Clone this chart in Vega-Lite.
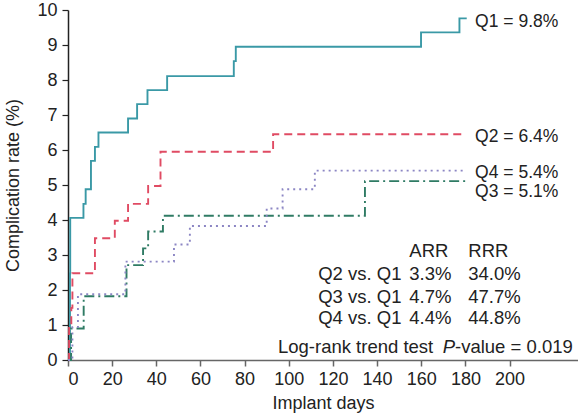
{
  "$schema": "https://vega.github.io/schema/vega-lite/v6.json",
  "autosize": "none",
  "width": 510,
  "height": 350,
  "padding": {"left": 68, "top": 10, "right": 0, "bottom": 60},
  "config": {"view": {"stroke": null}, "font": "Liberation Sans", "text": {"font": "Liberation Sans"}},
  "datasets": {
    "curves": [
      {"g": "Q1", "day": 0, "rate": 0},
      {"g": "Q1", "day": 0.9, "rate": 2.47},
      {"g": "Q1", "day": 1.0, "rate": 4.06},
      {"g": "Q1", "day": 7.0, "rate": 4.46},
      {"g": "Q1", "day": 8.0, "rate": 4.88},
      {"g": "Q1", "day": 10.4, "rate": 5.69},
      {"g": "Q1", "day": 12.2, "rate": 6.09},
      {"g": "Q1", "day": 13.8, "rate": 6.5},
      {"g": "Q1", "day": 27.2, "rate": 6.9},
      {"g": "Q1", "day": 31.3, "rate": 7.31},
      {"g": "Q1", "day": 36.0, "rate": 7.71},
      {"g": "Q1", "day": 44.9, "rate": 8.11},
      {"g": "Q1", "day": 75.1, "rate": 8.54},
      {"g": "Q1", "day": 76.0, "rate": 8.95},
      {"g": "Q1", "day": 159.9, "rate": 9.36},
      {"g": "Q1", "day": 177.3, "rate": 9.76},
      {"g": "Q1", "day": 180.6, "rate": 9.76},
      {"g": "Q2", "day": 0, "rate": 0},
      {"g": "Q2", "day": 0.5, "rate": 0.99},
      {"g": "Q2", "day": 1.5, "rate": 1.49},
      {"g": "Q2", "day": 2.0, "rate": 2.48},
      {"g": "Q2", "day": 12.2, "rate": 3.48},
      {"g": "Q2", "day": 21.2, "rate": 3.98},
      {"g": "Q2", "day": 27.2, "rate": 4.46},
      {"g": "Q2", "day": 36.3, "rate": 4.97},
      {"g": "Q2", "day": 41.9, "rate": 5.95},
      {"g": "Q2", "day": 92.9, "rate": 6.45},
      {"g": "Q2", "day": 178.3, "rate": 6.45},
      {"g": "Q3", "day": 0, "rate": 0},
      {"g": "Q3", "day": 1.4, "rate": 0.9},
      {"g": "Q3", "day": 7.1, "rate": 1.82},
      {"g": "Q3", "day": 26.5, "rate": 2.71},
      {"g": "Q3", "day": 34.0, "rate": 3.19},
      {"g": "Q3", "day": 36.3, "rate": 3.67},
      {"g": "Q3", "day": 43.0, "rate": 4.12},
      {"g": "Q3", "day": 134.5, "rate": 5.11},
      {"g": "Q3", "day": 180.5, "rate": 5.11},
      {"g": "Q4", "day": 0, "rate": 0},
      {"g": "Q4", "day": 2.0, "rate": 0.94},
      {"g": "Q4", "day": 4.5, "rate": 1.88},
      {"g": "Q4", "day": 26.0, "rate": 2.81},
      {"g": "Q4", "day": 48.0, "rate": 3.3},
      {"g": "Q4", "day": 55.2, "rate": 3.83},
      {"g": "Q4", "day": 90.0, "rate": 4.33},
      {"g": "Q4", "day": 97.2, "rate": 4.88},
      {"g": "Q4", "day": 111.8, "rate": 5.41},
      {"g": "Q4", "day": 179.0, "rate": 5.41}
    ],
    "endLabels": [
      {"day": 184.4, "rate": 9.67, "label": "Q1 = 9.8%"},
      {"day": 184.4, "rate": 6.38, "label": "Q2 = 6.4%"},
      {"day": 184.4, "rate": 5.33, "label": "Q4 = 5.4%"},
      {"day": 184.4, "rate": 4.8, "label": "Q3 = 5.1%"}
    ],
    "table": [
      {"day": 154.6, "rate": 3.12, "label": "ARR"},
      {"day": 181.3, "rate": 3.12, "label": "RRR"},
      {"day": 113.3, "rate": 2.46, "label": "Q2 vs. Q1"},
      {"day": 154.6, "rate": 2.46, "label": "3.3%"},
      {"day": 181.3, "rate": 2.46, "label": "34.0%"},
      {"day": 113.3, "rate": 1.81, "label": "Q3 vs. Q1"},
      {"day": 154.6, "rate": 1.81, "label": "4.7%"},
      {"day": 181.3, "rate": 1.81, "label": "47.7%"},
      {"day": 113.3, "rate": 1.19, "label": "Q4 vs. Q1"},
      {"day": 154.6, "rate": 1.19, "label": "4.4%"},
      {"day": 181.3, "rate": 1.19, "label": "44.8%"},
      {"day": 95.1, "rate": 0.38, "label": "Log-rank trend test"},
      {"day": 175.3, "rate": 0.38, "label": "-value = 0.019"}
    ],
    "italic": [
      {"day": 169.7, "rate": 0.38, "label": "P"}
    ]
  },
  "encoding": {
    "x": {
      "field": "day", "type": "quantitative",
      "scale": {"domain": [0, 231], "nice": false, "zero": true},
      "axis": {
        "values": [0, 20, 40, 60, 80, 100, 120, 140, 160, 180, 200],
        "title": "Implant days", "titleFontSize": 18, "titleFontWeight": "normal",
        "titleColor": "#222", "titlePadding": 6,
        "labelFontSize": 18, "labelColor": "#222", "labelPadding": 4, "labelOverlap": false,
        "domainColor": "#666", "domainWidth": 1.5, "tickColor": "#666", "tickWidth": 1.5, "tickSize": 6,
        "grid": false
      }
    },
    "y": {
      "field": "rate", "type": "quantitative",
      "scale": {"domain": [0, 10], "nice": false},
      "axis": {
        "values": [0, 1, 2, 3, 4, 5, 6, 7, 8, 9, 10],
        "title": "Complication rate (%)", "titleFontSize": 18, "titleFontWeight": "normal",
        "titleColor": "#222", "titlePadding": 14,
        "labelFontSize": 18, "labelColor": "#222", "labelPadding": 5, "labelOverlap": false,
        "domainColor": "#222", "domainWidth": 1.5, "tickColor": "#222", "tickWidth": 1.2, "tickSize": 6,
        "grid": false
      }
    }
  },
  "layer": [
    {
      "data": {"name": "curves"},
      "mark": {"type": "line", "interpolate": "step-after", "strokeWidth": 1.9},
      "encoding": {
        "color": {
          "field": "g", "type": "nominal",
          "scale": {"domain": ["Q1", "Q2", "Q3", "Q4"], "range": ["#3a99a6", "#e04b63", "#2f7b64", "#8c86c4"]},
          "legend": null
        },
        "strokeDash": {
          "field": "g", "type": "nominal",
          "scale": {"domain": ["Q1", "Q2", "Q3", "Q4"], "range": [[1, 0], [8, 5], [10, 4, 2, 4], [2, 4]]},
          "legend": null
        }
      }
    },
    {
      "data": {"name": "endLabels"},
      "mark": {"type": "text", "align": "left", "baseline": "middle", "fontSize": 17.5, "color": "#222"},
      "encoding": {"text": {"field": "label"}}
    },
    {
      "data": {"name": "table"},
      "mark": {"type": "text", "align": "left", "baseline": "middle", "fontSize": 18.5, "color": "#222"},
      "encoding": {"text": {"field": "label"}}
    },
    {
      "data": {"name": "italic"},
      "mark": {"type": "text", "align": "left", "baseline": "middle", "fontSize": 18.5, "fontStyle": "italic", "color": "#222"},
      "encoding": {"text": {"field": "label"}}
    }
  ]
}
